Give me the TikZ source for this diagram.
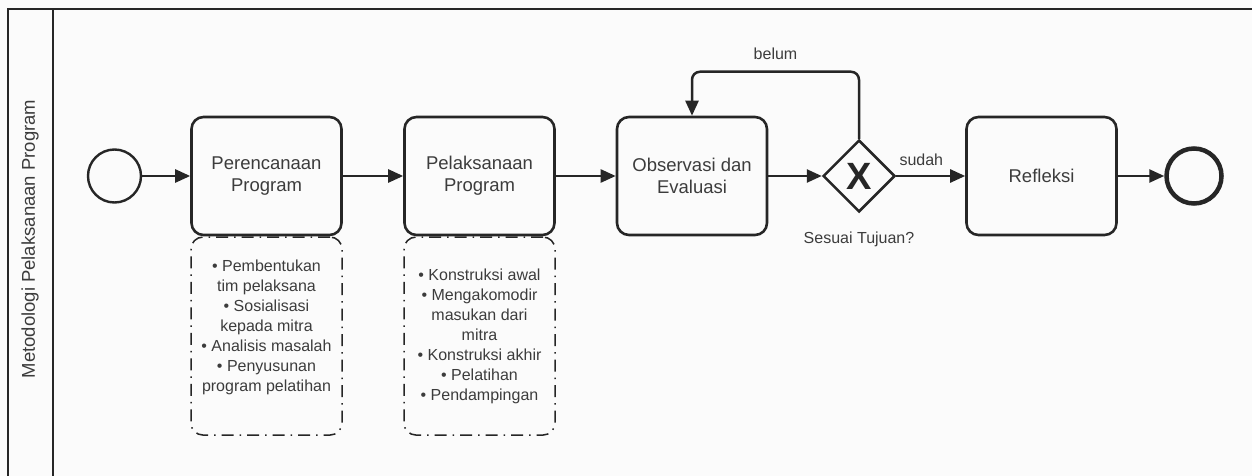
\documentclass[tikz,border=0pt]{standalone}
\usepackage{fontspec}
\setmainfont{Liberation Sans}
\usetikzlibrary{arrows.meta, shapes.geometric, positioning}

\definecolor{linegray}{HTML}{262626}
\definecolor{textgray}{HTML}{3C3C3C}
\definecolor{bggray}{HTML}{FBFBFB}

\tikzset{
  task/.style={draw=linegray, line width=2.6pt, rounded corners=12pt, minimum width=150pt,
    minimum height=118pt, align=center, text=textgray, font=\fontsize{18.5}{22}\selectfont},
  note/.style={draw=linegray, line width=1.5pt, dash pattern=on 12pt off 6pt on 1.5pt off 6pt,
    rounded corners=12pt, minimum width=151pt, minimum height=198pt, anchor=north,
    align=center, text=textgray, font=\fontsize{16}{20}\selectfont},
  flow/.style={draw=linegray, line width=2.5pt, -{Triangle[length=15pt, width=13pt]}},
  lbl/.style={text=textgray, font=\fontsize{16}{20}\selectfont},
}

\begin{document}
\begin{tikzpicture}[x=1pt, y=-1pt]
            \useasboundingbox (0,0) rectangle (1252,476);
            \fill[bggray] (0,0) rectangle (1252,476);
            \draw[linegray, line width=2pt] (8,476) |- (1252,9);
            \draw[linegray, line width=2pt] (53,9) -- (53,476);
            \node[lbl, rotate=90, font=\fontsize{18.5}{22}\selectfont] (pool) at (30,239) {Metodologi Pelaksanaan Program};

            \node[circle, draw=linegray, line width=2.4pt, minimum size=53pt, inner sep=0pt] (start) at (114.5,176) {};
            \node[task] (plan) at (266.5,176) {Perencanaan\\Program};
            \node[task] (exec) at (479.5,176) {Pelaksanaan\\Program};
            \node[task] (obs) at (692,176) {Observasi dan\\Evaluasi};
            \node[diamond, draw=linegray, line width=2.5pt, minimum size=72pt, inner sep=0pt, aspect=1,
              font=\fontsize{38}{38}\selectfont\bfseries, text=linegray,
              label={[lbl, label distance=15pt]below:Sesuai Tujuan?}] (gw) at (859,176) {X};
            \node[task] (refl) at (1041.5,176) {Refleksi};
            \node[circle, draw=linegray, line width=4.5pt, minimum size=55pt, inner sep=0pt] (end) at (1194,176) {};

            \node[note] (planNote) at (plan.south) {%
              \textbullet\ Pembentukan\\tim pelaksana\\\textbullet\ Sosialisasi\\kepada mitra\\
              \textbullet\ Analisis masalah\\\textbullet\ Penyusunan\\program pelatihan\\\mbox{}};
            \node[note] (execNote) at (exec.south) {%
              \textbullet\ Konstruksi awal\\\textbullet\ Mengakomodir\\masukan dari\\mitra\\
              \textbullet\ Konstruksi akhir\\\textbullet\ Pelatihan\\\textbullet\ Pendampingan};

            \draw[flow] (start) -- (plan);
            \draw[flow] (plan) -- (exec);
            \draw[flow] (exec) -- (obs);
            \draw[flow] (obs) -- (gw);
            \draw[flow] (gw) -- node[lbl, at start, above right, inner sep=2pt, yshift=7pt] {sudah} (refl);
            \draw[flow] (refl) -- (end);
            \draw[flow, rounded corners=8pt] (gw.north) -- ++(0,-67)
              -- node[lbl, above, inner sep=11pt] {belum} ++(-167,0) -- (obs.north);
\end{tikzpicture}
\end{document}
